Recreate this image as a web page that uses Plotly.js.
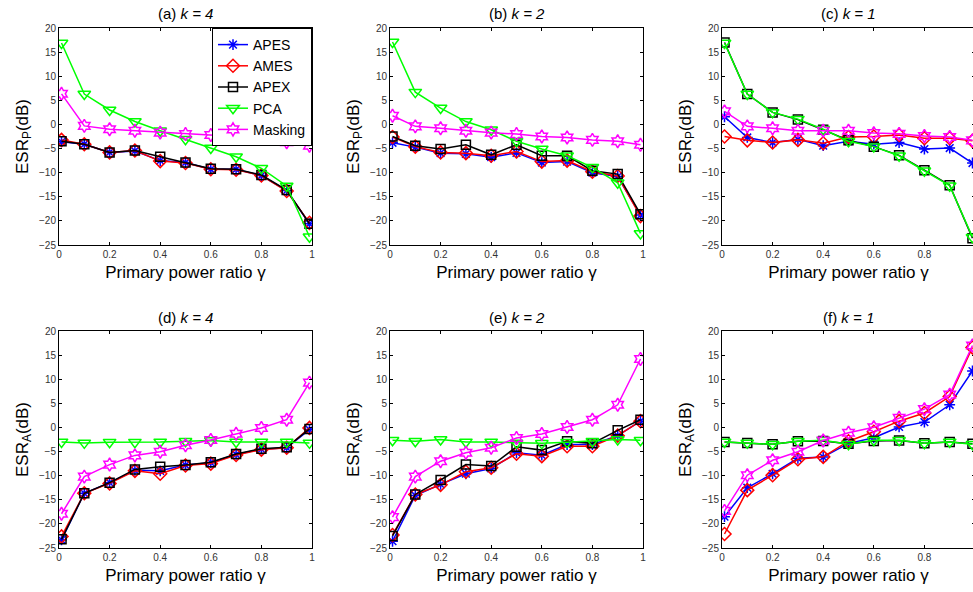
<!DOCTYPE html>
<html>
<head>
<meta charset="utf-8">
<script src="https://cdn.plot.ly/plotly-3.0.1.min.js"></script>
<style>
html,body{margin:0;padding:0;overflow:hidden;background:#fff;}
#chart{width:976px;height:592px;}
</style>
</head>
<body>
<div id="chart"></div>
<script>
// ---------- data ----------
const gamma = [0.01, 0.1, 0.2, 0.3, 0.4, 0.5, 0.6, 0.7, 0.8, 0.9, 0.99];
const xTickVals = [0, 0.2, 0.4, 0.6, 0.8, 1];
const xTickText = ['0', '0.2', '0.4', '0.6', '0.8', '1'];
const yTickVals = [-25, -20, -15, -10, -5, 0, 5, 10, 15, 20];
const seriesNames = ['APES', 'AMES', 'APEX', 'PCA', 'Masking'];
const panelTitles = ['(a) <i>k = 4</i>', '(b) <i>k = 2</i>', '(c) <i>k = 1</i>',
                     '(d) <i>k = 4</i>', '(e) <i>k = 2</i>', '(f) <i>k = 1</i>'];
const yTitles = ['ESR<sub>P</sub>(dB)', 'ESR<sub>A</sub>(dB)'];
const xTitle = 'Primary power ratio γ';

// (a) ESR_P, k = 4
const a_APES    = [-3.6, -4.1, -5.8, -5.5, -7.5, -7.9, -9.3, -9.3, -10.6, -13.7, -20.6];
const a_AMES    = [-3.2, -4.1, -5.8, -5.4, -7.6, -8.0, -9.3, -9.4, -10.6, -13.8, -20.4];
const a_APEX    = [-3.5, -4.1, -5.8, -5.4, -6.7, -7.9, -9.2, -9.3, -10.5, -13.6, -20.6];
const a_PCA     = [16.9, 6.3, 3.0, 0.6, -1.3, -3.05, -4.9, -6.7, -9.1, -12.75, -23.3];
const a_Masking = [6.35, -0.3, -1.0, -1.3, -1.7, -2.0, -2.2, -2.5, -3.05, -3.7, -4.4];

// (b) ESR_P, k = 2
const b_APES    = [-3.8, -4.7, -5.95, -6.1, -6.8, -5.9, -7.9, -7.7, -10.0, -10.8, -18.8];
const b_AMES    = [-2.6, -4.6, -5.8, -5.95, -6.5, -5.6, -7.7, -7.5, -9.8, -10.7, -19.0];
const b_APEX    = [-2.5, -4.4, -5.1, -4.2, -6.3, -4.2, -6.5, -6.5, -9.6, -10.3, -18.6];
const b_PCA     = [17.1, 6.7, 3.4, 0.6, -1.1, -3.5, -5.1, -6.5, -8.9, -12.1, -22.6];
const b_Masking = [1.8, -0.4, -0.8, -1.3, -1.7, -2.0, -2.5, -2.7, -3.2, -3.5, -4.2];

// (c) ESR_P, k = 1
const c_APES    = [1.6, -2.7, -3.75, -3.1, -4.4, -3.5, -4.1, -3.75, -5.1, -4.9, -8.0];
const c_AMES    = [-2.5, -3.3, -3.75, -3.2, -3.9, -2.6, -2.5, -2.2, -2.85, -2.85, -3.4];
const c_APEX    = [17.0, 6.3, 2.5, 1.0, -1.1, -3.3, -4.6, -6.4, -9.5, -12.6, -23.6];
const c_PCA     = [16.9, 6.3, 2.5, 1.1, -1.0, -3.5, -4.6, -6.5, -9.6, -12.7, -23.4];
const c_Masking = [2.7, -0.4, -0.8, -1.3, -1.3, -1.3, -1.8, -1.95, -2.4, -2.6, -3.3];

// (d) ESR_A, k = 4
const d_APES    = [-23.3, -13.65, -11.45, -8.9, -9.0, -7.8, -7.3, -5.6, -4.5, -4.2, -0.45];
const d_AMES    = [-22.6, -13.65, -11.6, -9.0, -9.6, -7.9, -7.5, -5.7, -4.6, -4.2, -0.1];
const d_APEX    = [-23.2, -13.65, -11.45, -8.7, -8.15, -7.8, -7.2, -5.5, -4.4, -4.1, -0.3];
const d_PCA     = [-3.0, -3.2, -3.05, -3.05, -3.0, -2.85, -2.7, -3.0, -3.0, -3.0, -3.2];
const d_Masking = [-17.9, -10.2, -7.7, -5.8, -5.05, -3.7, -2.6, -1.3, -0.1, 1.6, 9.3];

// (e) ESR_A, k = 2
const e_APES    = [-23.6, -14.1, -11.8, -9.6, -8.5, -5.25, -5.75, -3.55, -3.55, -1.7, 1.3];
const e_AMES    = [-22.3, -13.9, -11.9, -9.2, -8.35, -5.45, -5.95, -3.9, -3.9, -1.7, 1.3];
const e_APEX    = [-22.5, -13.9, -10.9, -7.7, -8.0, -4.0, -4.7, -2.85, -3.3, -0.6, 1.6];
const e_PCA     = [-2.65, -2.85, -2.5, -3.0, -3.0, -3.2, -3.3, -3.05, -2.85, -2.5, -2.65];
const e_Masking = [-18.6, -10.2, -7.0, -5.25, -4.2, -2.2, -1.35, 0.1, 1.6, 4.7, 14.2];

// (f) ESR_A, k = 1
const f_APES    = [-18.5, -12.5, -9.6, -6.4, -6.15, -3.3, -2.15, 0.1, 1.1, 4.7, 11.7];
const f_AMES    = [-22.1, -13.0, -9.9, -6.6, -6.1, -2.85, -0.9, 1.3, 3.0, 6.4, 16.6];
const f_APEX    = [-3.0, -3.2, -3.5, -2.85, -2.8, -3.4, -2.8, -2.7, -3.3, -3.0, -3.4];
const f_PCA     = [-3.0, -3.2, -3.5, -2.85, -2.65, -3.5, -2.65, -2.65, -3.3, -3.0, -3.5];
const f_Masking = [-17.3, -9.9, -6.8, -5.05, -2.7, -1.1, 0.05, 2.0, 3.8, 6.8, 17.0];

const panels = [
  [a_APES, a_AMES, a_APEX, a_PCA, a_Masking],
  [b_APES, b_AMES, b_APEX, b_PCA, b_Masking],
  [c_APES, c_AMES, c_APEX, c_PCA, c_Masking],
  [d_APES, d_AMES, d_APEX, d_PCA, d_Masking],
  [e_APES, e_AMES, e_APEX, e_PCA, e_Masking],
  [f_APES, f_AMES, f_APEX, f_PCA, f_Masking]
];

// ---------- styles ----------
const colors = ['#0000FF', '#FF0000', '#000000', '#00FF00', '#FF00FF'];
const symbols = ['asterisk-open', 'diamond-open', 'square-open', 'triangle-down-open', 'hexagram-open'];
const sizes = [9, 10, 9, 11, 10];

const W = 976, H = 592;
const colLeft = [59, 390, 722];
const plotW = 253;
const rowTop = [28, 331];
const plotH = 217;

const font = 'Arial, "Liberation Sans", sans-serif';
const traces = [];
const layout = {
  width: W, height: H,
  margin: {l: 0, r: 0, t: 0, b: 0},
  paper_bgcolor: '#fff', plot_bgcolor: '#fff',
  font: {family: font, color: '#000'},
  showlegend: true,
  legend: {
    x: (colLeft[0] + plotW) / W, xanchor: 'right',
    y: (H - rowTop[0]) / H, yanchor: 'top',
    bgcolor: '#fff', bordercolor: '#000', borderwidth: 1,
    font: {family: font, size: 14, color: '#000'},
    tracegroupgap: 0, itemwidth: 30
  },
  annotations: []
};

panels.forEach((series, p) => {
  const row = Math.floor(p / 3), col = p % 3;
  const idx = p === 0 ? '' : String(p + 1);
  const xa = 'xaxis' + idx, ya = 'yaxis' + idx;
  const x0 = colLeft[col] / W, x1 = (colLeft[col] + plotW) / W;
  const y1 = (H - rowTop[row]) / H, y0 = (H - rowTop[row] - plotH) / H;
  layout[xa] = {
    domain: [x0, x1], anchor: 'y' + idx, range: [0, 1],
    tickvals: xTickVals, ticktext: xTickText,
    ticks: 'inside', ticklen: 3, tickcolor: '#000',
    showline: true, linecolor: '#000', linewidth: 1, mirror: 'ticks',
    showgrid: false, zeroline: false,
    tickfont: {family: font, size: 10, color: '#333'},
    title: {text: xTitle, font: {family: font, size: 17, color: '#000'}, standoff: 7}
  };
  layout[ya] = {
    domain: [y0, y1], anchor: 'x' + idx, range: [-25, 20],
    tickvals: yTickVals,
    ticks: 'inside', ticklen: 3, tickcolor: '#000',
    showline: true, linecolor: '#000', linewidth: 1, mirror: 'ticks',
    showgrid: false, zeroline: false,
    tickfont: {family: font, size: 10, color: '#333'},
    title: {text: yTitles[row], font: {family: font, size: 17, color: '#000'}, standoff: 6}
  };
  layout.annotations.push({
    text: panelTitles[p], xref: 'paper', yref: 'paper',
    x: (x0 + x1) / 2, y: y1 + 14 / H, xanchor: 'center', yanchor: 'middle',
    showarrow: false, font: {family: font, size: 15, color: '#000'}
  });
  series.forEach((vals, s) => {
    traces.push({
      type: 'scatter', mode: 'lines+markers',
      x: gamma, y: vals, xaxis: 'x' + idx, yaxis: 'y' + idx,
      name: seriesNames[s], showlegend: p === 0, legendgroup: seriesNames[s],
      line: {color: colors[s], width: 1.5},
      marker: {symbol: symbols[s], size: sizes[s], color: colors[s], line: {color: colors[s], width: 1.5}}
    });
  });
});

Plotly.newPlot('chart', traces, layout, {displayModeBar: false, staticPlot: true});
</script>
</body>
</html>
